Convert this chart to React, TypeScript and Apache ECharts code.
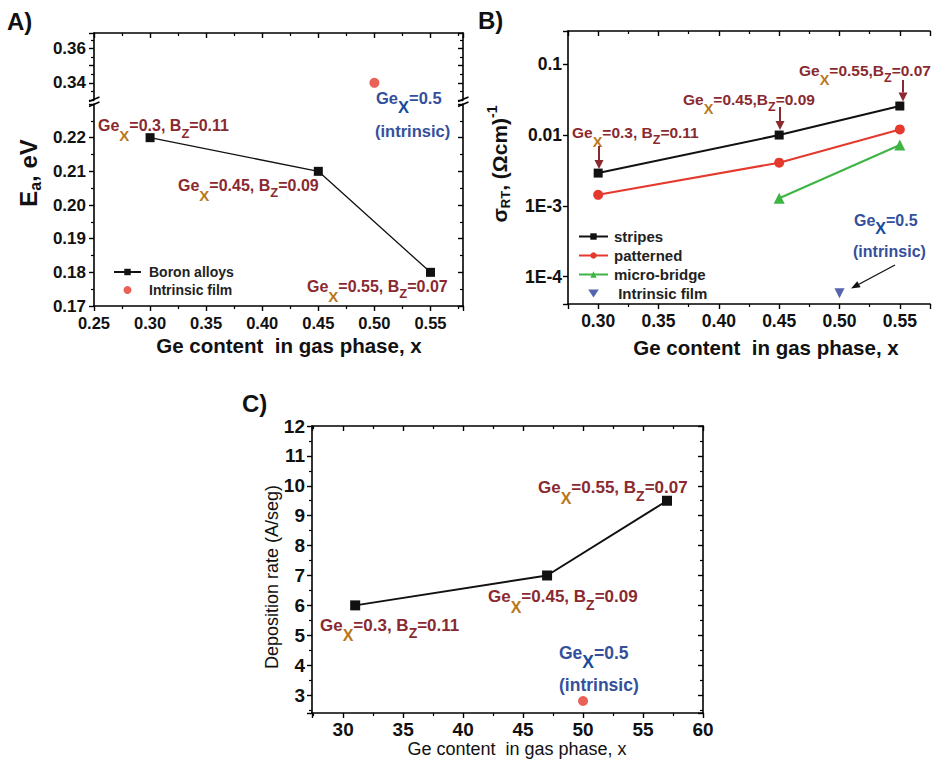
import React, { useEffect, useRef } from 'react';
import * as echarts from 'echarts';

const FONT = "'Liberation Sans', Arial, Helvetica, sans-serif";

// ---------- Panel A : activation energy ----------
const xBoronA = [0.30, 0.45, 0.55];
const eaBoron = [0.22, 0.21, 0.18];
const xIntrinsicA = [0.50];
const eaIntrinsic = [0.34];

// ---------- Panel B : room-temperature conductivity ----------
const xStripes = [0.30, 0.45, 0.55];
const sigmaStripes = [0.0029, 0.0100, 0.0257];
const xPatterned = [0.30, 0.45, 0.55];
const sigmaPatterned = [0.00143, 0.00407, 0.0120];
const xMicroBridge = [0.45, 0.55];
const sigmaMicroBridge = [0.00128, 0.00723];
const xIntrinsicB = [0.50];
const sigmaIntrinsic = [0.0000583];
const logTickExponents = [-1, -2, -3, -4];
const logTickLabels = ['0.1', '0.01', '1E-3', '1E-4'];

// ---------- Panel C : deposition rate ----------
const xBoronC = [31, 47, 57];
const rateBoron = [6.0, 7.0, 9.5];
const xIntrinsicC = [50];
const rateIntrinsic = [2.8];

// composition annotations (Ge_X, B_Z)
const geValues = ['0.3', '0.45', '0.55'];
const bzValues = ['0.11', '0.09', '0.07'];

const DARK_RED = '#8a2a30';
const OCHRE = '#b9771c';
const BLUE = '#34509c';
const BLUE_X = '#164b9c';
const RED = '#e5392e';
const GREEN = '#3db443';
const NAVY = '#2a3f98';

const zip = (xs: number[], ys: number[]) => xs.map((x, i) => [x, ys[i]]);

function compRich(size: number) {
  const base = { fontFamily: FONT, fontWeight: 'bold' };
  return {
    g: { ...base, fontSize: size, fill: DARK_RED, color: DARK_RED },
    x: { ...base, fontSize: size - 1, fill: OCHRE, color: OCHRE, padding: [Math.round(size * 1.25), 0, 0, 0] },
    z: { ...base, fontSize: size - 3, fill: DARK_RED, color: DARK_RED, padding: [Math.round(size * 0.95), 0, 0, 0] },
    b: { ...base, fontSize: size, fill: BLUE, color: BLUE },
    bx: { ...base, fontSize: size, fill: BLUE_X, color: BLUE_X, padding: [Math.round(size * 1.05), 0, 0, 0] },
  };
}

function compText(i: number, sep: string) {
  return `{g|Ge}{x|X}{g|=${geValues[i]},${sep}B}{z|Z}{g|=${bzValues[i]}}`;
}

function annot(text: string, x: number, y: number, size: number) {
  return {
    type: 'text',
    x,
    y,
    z: 20,
    silent: true,
    style: { text, rich: compRich(size), align: 'left', verticalAlign: 'middle', fontFamily: FONT },
  };
}

function plainText(text: string, x: number, y: number, size: number, weight: string, align = 'center', fill = '#111') {
  return {
    type: 'text',
    x,
    y,
    z: 20,
    silent: true,
    style: { text, fill, fontSize: size, fontWeight: weight, fontFamily: FONT, align, verticalAlign: 'middle' },
  };
}

function arrow(x1: number, y1: number, x2: number, y2: number, color: string, width: number, headLen: number, headHalf: number) {
  const dx = x2 - x1;
  const dy = y2 - y1;
  const len = Math.sqrt(dx * dx + dy * dy);
  const ux = dx / len;
  const uy = dy / len;
  const bx = x2 - ux * headLen;
  const by = y2 - uy * headLen;
  const nx = -uy;
  const ny = ux;
  return [
    { type: 'line', z: 20, silent: true, shape: { x1, y1, x2: bx, y2: by }, style: { stroke: color, lineWidth: width } },
    {
      type: 'polygon',
      z: 20,
      silent: true,
      shape: { points: [[x2, y2], [bx + nx * headHalf, by + ny * headHalf], [bx - nx * headHalf, by - ny * headHalf]] },
      style: { fill: color },
    },
  ];
}

const axisLine = { show: true, onZero: false, lineStyle: { color: '#000', width: 1.6 } };
const tickOut = { show: true, inside: false, length: 5, lineStyle: { color: '#000', width: 1.4 } };
const tickIn = { show: true, inside: true, length: 5, lineStyle: { color: '#000', width: 1.4 } };
const minor = { show: true, splitNumber: 2, length: 3, lineStyle: { color: '#000', width: 1.2 } };
const noSplit = { show: false };
const noLabel = { show: false };

const onStep = (v: number, step: number) => Math.abs(v / step - Math.round(v / step)) < 1e-6;

function labelStyle(size: number, margin: number, formatter: (v: number) => string) {
  return { show: true, fontSize: size, fontWeight: 'bold', fontFamily: FONT, color: '#111', margin, formatter };
}

function buildOption() {
  const xFmt2 = (v: number) => (onStep(v, 0.05) ? v.toFixed(2) : '');

  const xAxis = [
    // A upper (top frame)
    { type: 'value', gridIndex: 0, position: 'top', min: 0.25, max: 0.579, interval: 0.05, axisLine, axisTick: tickIn, minorTick: minor, axisLabel: noLabel, splitLine: noSplit, minorSplitLine: noSplit },
    // A lower (bottom axis)
    { type: 'value', gridIndex: 1, position: 'bottom', min: 0.25, max: 0.579, interval: 0.05, axisLine, axisTick: tickOut, minorTick: minor, axisLabel: labelStyle(16.5, 8, xFmt2), splitLine: noSplit },
    // B bottom
    { type: 'value', gridIndex: 2, position: 'bottom', min: 0.275, max: 0.575, axisLine, axisTick: tickOut, minorTick: minor, axisLabel: labelStyle(17.5, 8, xFmt2), splitLine: noSplit },
    // B top
    { type: 'value', gridIndex: 2, position: 'top', min: 0.275, max: 0.575, axisLine, axisTick: tickIn, minorTick: minor, axisLabel: noLabel, splitLine: noSplit },
    // C bottom
    { type: 'value', gridIndex: 3, position: 'bottom', min: 27.4, max: 60, axisLine, axisTick: tickOut, minorTick: minor, axisLabel: labelStyle(19, 7, (v: number) => (onStep(v, 5) ? String(Math.round(v)) : '')), splitLine: noSplit },
    // C top
    { type: 'value', gridIndex: 3, position: 'top', min: 27.4, max: 60, axisLine, axisTick: tickIn, minorTick: minor, axisLabel: noLabel, splitLine: noSplit },
  ];

  const aUpperFmt = (v: number) => {
    const k = Math.round(v * 100);
    return onStep(v, 0.01) && k % 2 === 0 && k >= 34 && k <= 36 ? v.toFixed(2) : '';
  };
  const aLowerFmt = (v: number) => {
    const k = Math.round(v * 100);
    return onStep(v, 0.01) && k >= 17 && k <= 22 ? v.toFixed(2) : '';
  };
  const logFmt = (v: number) => {
    const l = Math.log10(v);
    if (Math.abs(l - Math.round(l)) > 1e-6) return '';
    const idx = logTickExponents.indexOf(Math.round(l));
    return idx >= 0 ? logTickLabels[idx] : '';
  };

  const yAxis = [
    // A upper left
    { type: 'value', gridIndex: 0, position: 'left', min: 0.33, max: 0.369, interval: 0.01, axisLine, axisTick: tickOut, minorTick: minor, axisLabel: labelStyle(17, 8, aUpperFmt), splitLine: noSplit },
    // A upper right
    { type: 'value', gridIndex: 0, position: 'right', min: 0.33, max: 0.369, interval: 0.01, axisLine, axisTick: tickIn, minorTick: minor, axisLabel: noLabel, splitLine: noSplit },
    // A lower left
    { type: 'value', gridIndex: 1, position: 'left', min: 0.17, max: 0.23, interval: 0.01, axisLine, axisTick: tickOut, minorTick: minor, axisLabel: labelStyle(17, 8, aLowerFmt), splitLine: noSplit },
    // A lower right
    { type: 'value', gridIndex: 1, position: 'right', min: 0.17, max: 0.23, interval: 0.01, axisLine, axisTick: tickIn, minorTick: minor, axisLabel: noLabel, splitLine: noSplit },
    // B left (log)
    { type: 'log', logBase: 10, gridIndex: 2, position: 'left', min: 0.000041, max: 0.295, axisLine, axisTick: tickOut, axisLabel: labelStyle(17.5, 6, logFmt), splitLine: noSplit },
    // C left
    { type: 'value', gridIndex: 3, position: 'left', min: 2.4, max: 12, splitNumber: 10, axisLine, axisTick: tickOut, minorTick: minor, axisLabel: labelStyle(19, 7, (v: number) => (onStep(v, 1) ? String(Math.round(v)) : '')), splitLine: noSplit },
    // C right
    { type: 'value', gridIndex: 3, position: 'right', min: 2.4, max: 12, splitNumber: 10, axisLine, axisTick: tickIn, minorTick: minor, axisLabel: noLabel, splitLine: noSplit },
  ];

  const grid = [
    { left: 94, top: 33, width: 369, height: 67 },
    { left: 94, top: 104, width: 369, height: 202 },
    { left: 568, top: 31, width: 368, height: 273 },
    { left: 312, top: 426, width: 391, height: 287 },
  ];

  const series = [
    { name: 'Boron alloys', type: 'line', xAxisIndex: 1, yAxisIndex: 2, data: zip(xBoronA, eaBoron), symbol: 'rect', symbolSize: 9, itemStyle: { color: '#111' }, lineStyle: { color: '#111', width: 1.3 } },
    { name: 'Intrinsic film', type: 'scatter', xAxisIndex: 0, yAxisIndex: 0, data: zip(xIntrinsicA, eaIntrinsic), symbol: 'circle', symbolSize: 10, itemStyle: { color: RED } },
    { name: 'stripes', type: 'line', xAxisIndex: 2, yAxisIndex: 4, data: zip(xStripes, sigmaStripes), symbol: 'rect', symbolSize: 9, itemStyle: { color: '#111' }, lineStyle: { color: '#111', width: 2 } },
    { name: 'patterned', type: 'line', xAxisIndex: 2, yAxisIndex: 4, data: zip(xPatterned, sigmaPatterned), symbol: 'circle', symbolSize: 10, itemStyle: { color: RED }, lineStyle: { color: RED, width: 2 } },
    { name: 'micro-bridge', type: 'line', xAxisIndex: 2, yAxisIndex: 4, data: zip(xMicroBridge, sigmaMicroBridge), symbol: 'triangle', symbolSize: 11, itemStyle: { color: GREEN }, lineStyle: { color: GREEN, width: 2 } },
    { name: ' Intrinsic film', type: 'scatter', xAxisIndex: 2, yAxisIndex: 4, data: zip(xIntrinsicB, sigmaIntrinsic), symbol: 'triangle', symbolRotate: 180, symbolSize: 10, itemStyle: { color: NAVY } },
    { name: 'C boron alloys', type: 'line', xAxisIndex: 4, yAxisIndex: 5, data: zip(xBoronC, rateBoron), symbol: 'rect', symbolSize: 10, itemStyle: { color: '#111' }, lineStyle: { color: '#111', width: 2 } },
    { name: 'C intrinsic film', type: 'scatter', xAxisIndex: 4, yAxisIndex: 5, data: zip(xIntrinsicC, rateIntrinsic), symbol: 'circle', symbolSize: 10, itemStyle: { color: RED } },
  ];

  const legend = [
    {
      data: ['Boron alloys', 'Intrinsic film'], left: 113, top: 265, orient: 'vertical', padding: 0,
      itemWidth: 27, itemHeight: 8, itemGap: 4, selectedMode: false,
      textStyle: { fontSize: 14, fontWeight: 'bold', fontFamily: FONT, color: '#222', padding: [0, 0, 0, 3] },
    },
    {
      data: ['stripes', 'patterned', 'micro-bridge', { name: ' Intrinsic film', icon: 'path://M0,0L12,0L6,9Z' }],
      left: 578, top: 229, orient: 'vertical', padding: 0,
      itemWidth: 29, itemHeight: 8, itemGap: 4, selectedMode: false,
      textStyle: { fontSize: 15, fontWeight: 'bold', fontFamily: FONT, color: '#222', padding: [0, 0, 0, 1] },
    },
  ];

  const titleRichA = {
    m: { fontSize: 24, fontWeight: 'bold', fontFamily: FONT, fill: '#111' },
    s: { fontSize: 16, fontWeight: 'bold', fontFamily: FONT, fill: '#111', padding: [14, 0, 0, 0] },
  };
  const titleRichB = {
    m: { fontSize: 21, fontWeight: 'bold', fontFamily: FONT, fill: '#111' },
    s: { fontSize: 13, fontWeight: 'bold', fontFamily: FONT, fill: '#111', padding: [13, 0, 0, 0] },
    p: { fontSize: 14, fontWeight: 'bold', fontFamily: FONT, fill: '#111', padding: [0, 0, 15, 0] },
  };

  const graphic: any[] = [
    // panel letters
    plainText('A)', 7, 21, 24, 'bold', 'left'),
    plainText('B)', 478, 20, 24, 'bold', 'left'),
    plainText('C)', 242, 403, 24, 'bold', 'left'),
    // x titles
    plainText('Ge content  in gas phase, x', 289, 345, 20.5, 'bold'),
    plainText('Ge content  in gas phase, x', 766, 347, 20.5, 'bold'),
    plainText('Ge content  in gas phase, x', 517, 749, 18, 'normal'),
    // y titles
    {
      type: 'text', x: 28, y: 173, rotation: Math.PI / 2, z: 20, silent: true,
      style: { text: '{m|E}{s|a}{m|, eV}', rich: titleRichA, align: 'center', verticalAlign: 'middle' },
    },
    {
      type: 'text', x: 499, y: 164, rotation: Math.PI / 2, z: 20, silent: true,
      style: { text: '{m|σ}{s|RT}{m|, (Ωcm)}{p|-1}', rich: titleRichB, align: 'center', verticalAlign: 'middle' },
    },
    {
      type: 'text', x: 272, y: 577, rotation: Math.PI / 2, z: 20, silent: true,
      style: { text: 'Deposition rate (A/seg)', fill: '#111', fontSize: 18, fontFamily: FONT, align: 'center', verticalAlign: 'middle' },
    },
    // axis break marks (panel A)
    { type: 'line', z: 25, silent: true, shape: { x1: 89, y1: 101.5, x2: 99.5, y2: 97 }, style: { stroke: '#000', lineWidth: 1.5 } },
    { type: 'line', z: 25, silent: true, shape: { x1: 89, y1: 106.5, x2: 99.5, y2: 102 }, style: { stroke: '#000', lineWidth: 1.5 } },
    { type: 'line', z: 25, silent: true, shape: { x1: 458, y1: 101.5, x2: 468.5, y2: 97 }, style: { stroke: '#000', lineWidth: 1.5 } },
    { type: 'line', z: 25, silent: true, shape: { x1: 458, y1: 106.5, x2: 468.5, y2: 102 }, style: { stroke: '#000', lineWidth: 1.5 } },
    // Panel A annotations
    annot(compText(0, ' '), 98, 125.5, 16),
    annot(compText(1, ' '), 178, 185, 16),
    annot(compText(2, ' '), 307, 286, 16),
    annot('{b|Ge}{bx|X}{b|=0.5}', 376, 98, 16.5),
    annot('{b|(intrinsic)}', 375, 131, 16.5),
    // Panel B annotations
    annot(compText(0, ' '), 572, 132.5, 15.5),
    annot(compText(1, ''), 683, 99.5, 15.5),
    annot(compText(2, ''), 799, 70.5, 15.5),
    annot('{b|Ge}{bx|X}{b|=0.5}', 854, 220, 16),
    annot('{b|(intrinsic)}', 853, 251.5, 16),
    ...arrow(599, 146, 599, 169, DARK_RED, 2, 9, 4.5),
    ...arrow(780, 107, 780, 130, DARK_RED, 2, 9, 4.5),
    ...arrow(903, 80, 903, 101.5, DARK_RED, 2, 9, 4.5),
    ...arrow(895, 265, 851, 288.5, '#111', 1.3, 9, 3.5),
    // Panel C annotations
    annot(compText(0, ' '), 320, 625, 17),
    annot(compText(1, ' '), 488, 596.5, 17),
    annot(compText(2, ' '), 538, 487.5, 17),
    annot('{b|Ge}{bx|X}{b|=0.5}', 559, 652.5, 17.5),
    annot('{b|(intrinsic)}', 559, 685, 17.5),
  ];

  return {
    animation: false,
    backgroundColor: '#ffffff',
    textStyle: { fontFamily: FONT },
    grid,
    xAxis,
    yAxis,
    series,
    legend,
    graphic,
  };
}

export default function App() {
  const ref = useRef<HTMLDivElement>(null);
  useEffect(() => {
    document.body.style.margin = '0';
    const chart = echarts.init(ref.current as HTMLDivElement, null, { renderer: 'svg' });
    chart.setOption(buildOption() as any);
    return () => {
      chart.dispose();
    };
  }, []);
  return <div ref={ref} style={{ width: 933, height: 761, background: '#fff', overflow: 'hidden' }} />;
}
